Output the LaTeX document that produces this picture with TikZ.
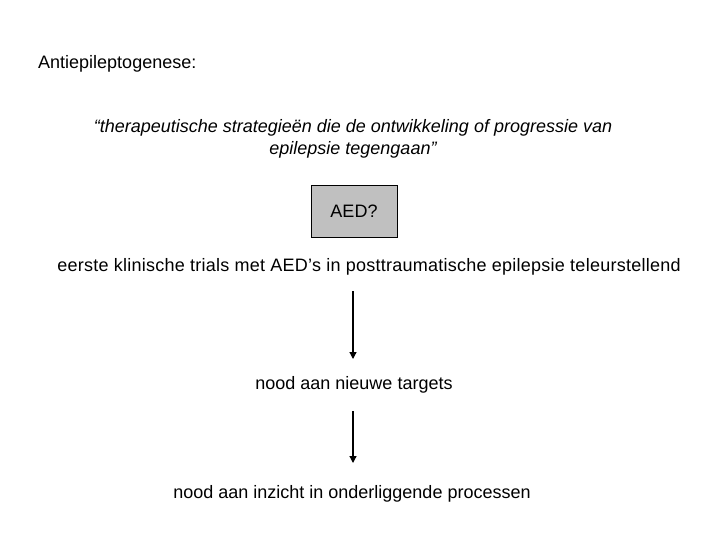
\documentclass[tikz,border=0pt]{standalone}
\usepackage{fontspec}
\setmainfont{Liberation Sans}
\usetikzlibrary{arrows.meta}
\definecolor{boxgray}{RGB}{192,192,192}
\begin{document}
\begin{tikzpicture}[x=1pt,y=-1pt,
  txt/.style={font=\fontsize{18}{22}\selectfont, inner sep=0pt},
  arr/.style={line width=1.2pt, -{Triangle[length=7pt,width=7pt]}},
  aedbox/.style={draw=black, line width=0.8pt, fill=boxgray, minimum width=86pt, minimum height=52pt, font=\fontsize{18}{22}\selectfont}]
\useasboundingbox (0,0) rectangle (720,540);
\node[txt, anchor=west] (title) at (38,64) {Antiepileptogenese:};
\node[txt, align=center] (def) at (353,139) {\itshape “therapeutische strategieën die de ontwikkeling of progressie van\\\itshape epilepsie tegengaan”};
\node[aedbox] (aed) at (354,211) {AED?};
\node[txt] (trials) at (369,267) {\addfontfeature{LetterSpace=1.4}eerste klinische trials met AED’s in posttraumatische epilepsie teleurstellend};
\coordinate (a1s) at (353,291);
\coordinate (a1e) at (353,359);
\node[txt] (targets) at (354,385) {nood aan nieuwe targets};
\coordinate (a2s) at (353,411);
\coordinate (a2e) at (353,463);
\node[txt] (inzicht) at (352,494) {nood aan inzicht in onderliggende processen};
\draw[arr] (a1s) -- (a1e);
\draw[arr] (a2s) -- (a2e);
\end{tikzpicture}
\end{document}
